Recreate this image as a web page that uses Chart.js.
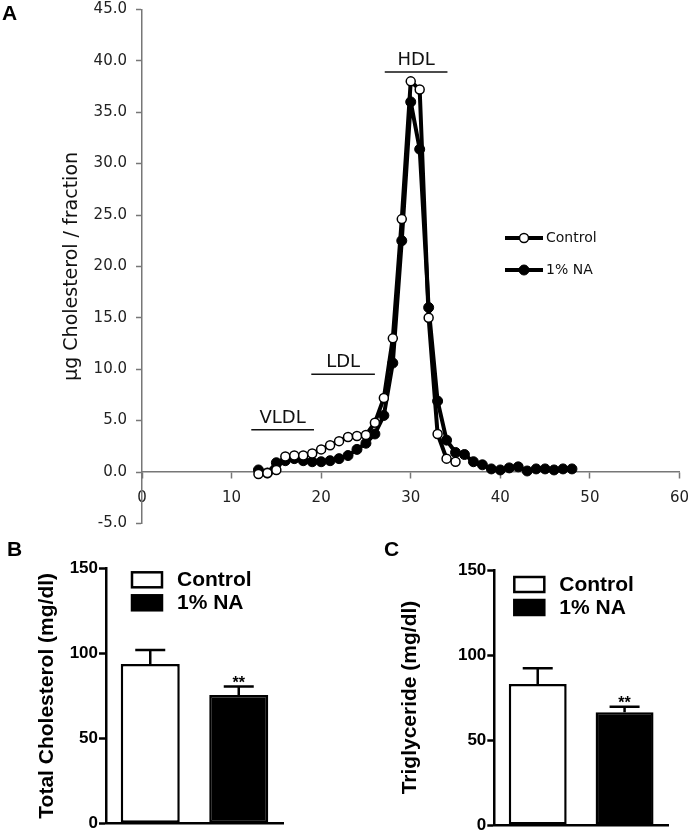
<!DOCTYPE html>
<html>
<head>
<meta charset="utf-8">
<script src="https://cdn.jsdelivr.net/npm/chart.js@4.4.1/dist/chart.umd.min.js"></script>
<style>
  body { margin: 0; background: #fff; }
  #wrap { position: relative; width: 700px; height: 834px; overflow: hidden; }
  canvas { position: absolute; }
  .tag { position: absolute; font: bold 21px 'Liberation Sans', Arial, sans-serif; line-height: 21px; color: #000; }
</style>
</head>
<body>
<div id="wrap">
  <canvas id="profileChart" width="700" height="545" style="left:0;top:0"></canvas>
  <canvas id="cholChart" width="350" height="294" style="left:0;top:540px"></canvas>
  <canvas id="tgChart" width="350" height="294" style="left:350px;top:540px"></canvas>
  <div class="tag" style="left:2px;top:2px">A</div>
  <div class="tag" style="left:7px;top:538px">B</div>
  <div class="tag" style="left:384px;top:538px">C</div>
</div>
<script>
// Panel A: FPLC cholesterol profile
const ctrlFractions = [13, 14, 15, 16, 17, 18, 19, 20, 21, 22, 23, 24, 25, 26, 27, 28, 29, 30, 31, 32, 33, 34, 35];
const ctrlValues = [-0.2, -0.1, 0.2, 1.5, 1.6, 1.6, 1.8, 2.2, 2.6, 3.0, 3.4, 3.5, 3.6, 4.8, 7.2, 13.0, 24.6, 38.0, 37.2, 15.0, 3.7, 1.3, 1.0];
const naFractions = [13, 14, 15, 16, 17, 18, 19, 20, 21, 22, 23, 24, 25, 26, 27, 28, 29, 30, 31, 32, 33, 34, 35, 36, 37, 38, 39, 40, 41, 42, 43, 44, 45, 46, 47, 48];
const naValues = [0.2, -0.1, 0.9, 1.1, 1.3, 1.1, 1.0, 1.0, 1.1, 1.3, 1.6, 2.2, 2.8, 3.7, 5.5, 10.6, 22.5, 36.0, 31.4, 16.0, 6.9, 3.1, 1.9, 1.7, 1.0, 0.7, 0.3, 0.2, 0.4, 0.5, 0.1, 0.3, 0.3, 0.2, 0.3, 0.3];

// lipoprotein class brackets (fraction range and height)
const classNames = ['VLDL', 'LDL', 'HDL'];
const classFrom = [12.2, 18.9, 27.1];
const classTo = [19.2, 26.0, 34.1];
const classLevel = [4.1, 9.5, 38.9];

// Panels B and C
const groups = ['Control', '1% NA'];
const cholMean = [93.7, 75.5];
const cholSem = [8.3, 4.9];
const tgMean = [83.0, 66.3];
const tgSem = [9.2, 3.3];
const signif = ['', '**'];

const sans = 'DejaVu Sans';
const arial = "'Liberation Sans', Arial";

// keep tick label overflow from pushing the plot area around
function fixAxis(width) {
    return s => {
        s.width = width;
        s.paddingTop = 0;
        s.paddingBottom = 0;
    };
}

const profileExtras = {
    id: 'profileExtras',
    afterDatasetsDraw(chart) {
        const ctx = chart.ctx;
        const xs = chart.scales.x, ys = chart.scales.y;
        ctx.save();
        ctx.fillStyle = '#111';
        ctx.strokeStyle = '#111';
        ctx.lineWidth = 1.5;
        ctx.font = '18px ' + sans;
        ctx.textAlign = 'center';
        ctx.textBaseline = 'alphabetic';
        classNames.forEach((name, i) => {
            const x1 = xs.getPixelForValue(classFrom[i]);
            const x2 = xs.getPixelForValue(classTo[i]);
            const y = ys.getPixelForValue(classLevel[i]);
            ctx.beginPath();
            ctx.moveTo(x1, y);
            ctx.lineTo(x2, y);
            ctx.stroke();
            ctx.fillText(name, (x1 + x2) / 2, y - 7);
        });

        // legend
        ctx.font = '14px ' + sans;
        ctx.textAlign = 'left';
        ctx.textBaseline = 'middle';
        chart.data.datasets.forEach((ds, i) => {
            const y = 238 + i * 32;
            ctx.strokeStyle = '#000';
            ctx.lineWidth = 4;
            ctx.beginPath();
            ctx.moveTo(505, y);
            ctx.lineTo(543, y);
            ctx.stroke();
            ctx.beginPath();
            ctx.arc(524, y, ds.pointRadius, 0, Math.PI * 2);
            ctx.fillStyle = ds.pointBackgroundColor;
            ctx.fill();
            ctx.lineWidth = ds.pointBorderWidth;
            ctx.stroke();
            ctx.fillStyle = '#111';
            ctx.fillText(ds.label, 546, y);
        });
        ctx.restore();
    }
};

new Chart(document.getElementById('profileChart'), {
    type: 'line',
    data: {
        datasets: [{
            label: 'Control',
            data: ctrlFractions.map((f, i) => ({ x: f, y: ctrlValues[i] })),
            borderColor: '#000',
            borderWidth: 4,
            pointRadius: 4.5,
            pointBorderWidth: 1.5,
            pointBorderColor: '#000',
            pointBackgroundColor: '#fff',
            tension: 0
        }, {
            label: '1% NA',
            data: naFractions.map((f, i) => ({ x: f, y: naValues[i] })),
            borderColor: '#000',
            borderWidth: 4,
            pointRadius: 5,
            pointBorderWidth: 1,
            pointBorderColor: '#000',
            pointBackgroundColor: '#000',
            tension: 0
        }]
    },
    options: {
        responsive: false,
        animation: false,
        layout: { padding: { top: 9.4, right: 11, bottom: 21.6, left: 0 } },
        plugins: { legend: { display: false }, tooltip: { enabled: false } },
        scales: {
            x: {
                type: 'linear',
                position: { y: 0 },
                min: 0,
                max: 60,
                ticks: { stepSize: 10, font: { family: sans, size: 15 }, color: '#222', padding: 11 },
                grid: { drawOnChartArea: false, tickLength: 6, color: '#777', tickWidth: 1.5 },
                border: { color: '#777', width: 1.5 }
            },
            y: {
                min: -5,
                max: 45,
                ticks: { stepSize: 5, callback: v => v.toFixed(1), font: { family: sans, size: 15 }, color: '#222', padding: 9 },
                grid: { drawOnChartArea: false, tickLength: 6, color: '#777', tickWidth: 1.5 },
                border: { color: '#777', width: 1.5 },
                title: {
                    display: true,
                    text: 'μg Cholesterol / fraction',
                    font: { family: sans, size: 19 },
                    color: '#111',
                    padding: { top: 61, bottom: 0 }
                },
                afterFit: fixAxis(142)
            }
        }
    },
    plugins: [profileExtras]
});

const barExtras = {
    id: 'barExtras',
    afterDatasetsDraw(chart, args, opts) {
        const ctx = chart.ctx;
        const ys = chart.scales.y;
        const meta = chart.getDatasetMeta(0);
        const area = chart.chartArea;
        ctx.save();
        ctx.strokeStyle = '#000';
        ctx.fillStyle = '#000';
        ctx.lineWidth = 2.5;
        meta.data.forEach((bar, i) => {
            const yTop = ys.getPixelForValue(opts.means[i] + opts.errs[i]);
            ctx.beginPath();
            ctx.moveTo(bar.x, bar.y);
            ctx.lineTo(bar.x, yTop);
            ctx.moveTo(bar.x - 15, yTop);
            ctx.lineTo(bar.x + 15, yTop);
            ctx.stroke();
            if (signif[i]) {
                ctx.font = 'bold 16px ' + arial;
                ctx.textAlign = 'center';
                ctx.textBaseline = 'alphabetic';
                ctx.fillText(signif[i], bar.x, yTop + 1);
            }
        });

        // legend boxes
        const ds = chart.data.datasets[0];
        ctx.font = 'bold 21px ' + arial;
        ctx.textAlign = 'left';
        ctx.textBaseline = 'middle';
        groups.forEach((g, i) => {
            const bx = area.left + opts.legendX;
            const by = area.top + opts.legendY + i * 23;
            ctx.fillStyle = ds.backgroundColor[i];
            ctx.fillRect(bx, by, 30, 15);
            ctx.lineWidth = 2.5;
            ctx.strokeRect(bx, by, 30, 15);
            ctx.fillStyle = '#000';
            ctx.fillText(g, bx + 45, by + 8);
        });
        ctx.restore();
    }
};

function createBarChart(canvasId, means, errs, titleText, pad, axisWidth, titleShift, legendX, legendY) {
    new Chart(document.getElementById(canvasId), {
        type: 'bar',
        data: {
            labels: groups,
            datasets: [{
                data: means,
                backgroundColor: ['#fff', '#000'],
                borderColor: '#000',
                borderWidth: 2.5,
                borderSkipped: false,
                barPercentage: 0.667,
                categoryPercentage: 1
            }]
        },
        options: {
            responsive: false,
            animation: false,
            layout: { padding: pad },
            plugins: {
                legend: { display: false },
                tooltip: { enabled: false },
                barExtras: { means: means, errs: errs, legendX: legendX, legendY: legendY }
            },
            scales: {
                x: {
                    ticks: { display: false },
                    grid: { display: true, drawOnChartArea: false, drawTicks: false },
                    border: { color: '#000', width: 2.5 }
                },
                y: {
                    min: 0,
                    max: 150,
                    ticks: { stepSize: 50, font: { family: arial, size: 17, weight: 'bold' }, color: '#000', padding: 1 },
                    grid: { drawOnChartArea: false, tickLength: 7, tickWidth: 2.5, tickColor: '#000' },
                    border: { color: '#000', width: 2.5 },
                    title: {
                        display: true,
                        text: titleText,
                        font: { family: arial, size: 21, weight: 'bold' },
                        color: '#000',
                        padding: { top: titleShift, bottom: 0 }
                    },
                    afterFit: fixAxis(axisWidth)
                }
            }
        },
        plugins: [barExtras]
    });
}

createBarChart('cholChart', cholMean, cholSem, 'Total Cholesterol (mg/dl)',
    { top: 28.3, right: 67, bottom: 10.7, left: 0 }, 106, 34.4, 26, 4);
createBarChart('tgChart', tgMean, tgSem, 'Triglyceride (mg/dl)',
    { top: 30, right: 32, bottom: 9, left: 0 }, 144.3, 47.4, 20, 7);
</script>
</body>
</html>
